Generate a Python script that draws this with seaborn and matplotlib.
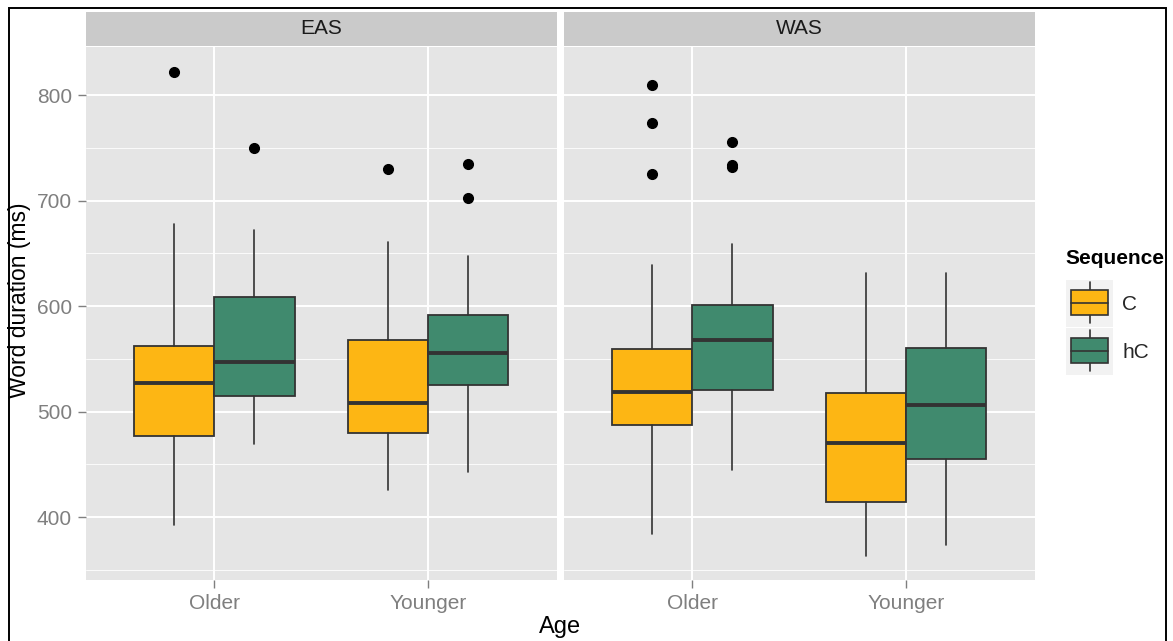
import numpy as np
import pandas as pd
import seaborn as sns
import matplotlib.pyplot as plt
from matplotlib.patches import Rectangle, Patch
from matplotlib.lines import Line2D
from matplotlib.legend_handler import HandlerBase
from matplotlib.ticker import FixedLocator

# data, one entry per box
groups = ['EAS', 'WAS']
ages = ['Older', 'Younger']
sequences = ['C', 'hC']
seq_colors = ['#FDB614', '#408A6E']

box_group = ['EAS', 'EAS', 'EAS', 'EAS', 'WAS', 'WAS', 'WAS', 'WAS']
box_age = ['Older', 'Older', 'Younger', 'Younger', 'Older', 'Older', 'Younger', 'Younger']
box_seq = ['C', 'hC', 'C', 'hC', 'C', 'hC', 'C', 'hC']
whislo = [392.6, 469.3, 425.8, 442.5, 384.1, 444.7, 363.2, 373.7]
q1 = [477.2, 515.1, 479.5, 524.9, 487.4, 520.2, 414.4, 455.4]
med = [526.9, 547.3, 508.5, 555.9, 518.6, 567.6, 470.0, 506.0]
q3 = [562.5, 608.9, 567.6, 591.8, 559.6, 601.0, 517.4, 560.0]
whishi = [677.8, 672.1, 661.0, 647.7, 638.9, 658.6, 631.7, 631.7]
fliers = [[822.1], [750.1], [729.9], [734.9, 702.1],
          [809.8, 773.5, 725.2], [755.5, 733.5, 731.5], [], []]

df = pd.DataFrame({'Group': box_group, 'Age': box_age, 'Sequence': box_seq,
                   'whislo': whislo, 'q1': q1, 'med': med, 'q3': q3,
                   'whishi': whishi, 'fliers': fliers})

sns.set_theme(style='darkgrid', rc={'axes.facecolor': '#E5E5E5', 'grid.color': 'white'})
plt.rcParams['font.family'] = ['Liberation Sans', 'DejaVu Sans']

W, H = 1173, 641
dark = '#333333'
dodge = 0.375


def draw_boxes(data, **kws):
    ax = plt.gca()
    for _, r in data.iterrows():
        k = sequences.index(r['Sequence'])
        pos = ages.index(r['Age']) + (k - 0.5) * dodge
        st = dict(whislo=r['whislo'], q1=r['q1'], med=r['med'], q3=r['q3'],
                  whishi=r['whishi'], fliers=r['fliers'])
        ax.bxp([st], positions=[pos], widths=dodge, patch_artist=True,
               showcaps=False, manage_ticks=False,
               boxprops=dict(facecolor=seq_colors[k], edgecolor=dark, linewidth=1.3),
               whiskerprops=dict(color=dark, linewidth=1.2),
               medianprops=dict(color=dark, linewidth=2.8, solid_capstyle='butt'),
               flierprops=dict(marker='o', markerfacecolor='black',
                               markeredgecolor='black', markersize=7))


class BoxKeyHandler(HandlerBase):
    def create_artists(self, legend, orig_handle, xdescent, ydescent,
                       width, height, fontsize, trans):
        x0, y0 = -xdescent, -ydescent
        cx = x0 + width / 2
        bg = Rectangle((x0, y0), width, height, facecolor='#F2F2F2',
                       edgecolor='none', transform=trans)
        lo = Line2D([cx, cx], [y0 + 0.08 * height, y0 + 0.26 * height],
                    color=dark, lw=1.2, transform=trans)
        hi = Line2D([cx, cx], [y0 + 0.78 * height, y0 + 0.96 * height],
                    color=dark, lw=1.2, transform=trans)
        box = Rectangle((x0 + 0.1 * width, y0 + 0.26 * height), 0.8 * width,
                        0.52 * height, facecolor=orig_handle.get_facecolor(),
                        edgecolor=dark, lw=1.2, transform=trans)
        md = Line2D([x0 + 0.1 * width, x0 + 0.9 * width],
                    [y0 + 0.52 * height] * 2, color=dark, lw=1.2, transform=trans)
        return [bg, lo, hi, box, md]


g = sns.FacetGrid(df, col='Group', col_order=groups, sharey=True, despine=False)
g.map_dataframe(draw_boxes)
fig = g.figure
fig.set_size_inches(W / 100, H / 100)
fig.set_dpi(100)
g.set_titles('')
g.set_axis_labels('', '')

panel_left = [86, 564]
strip_h = 34.4 / 533
for ax, name, left in zip(g.axes.flat, groups, panel_left):
    ax.set_position([left / W, 1 - 580 / H, 470.5 / W, 533 / H])
    ax.set_xlim(-0.6, 1.6)
    ax.set_ylim(340.5, 845.5)
    ax.set_xticks(range(len(ages)))
    ax.set_xticklabels(ages)
    ax.set_yticks([400, 500, 600, 700, 800])
    ax.yaxis.set_minor_locator(FixedLocator([350, 450, 550, 650, 750]))
    ax.set_axisbelow(True)
    ax.grid(which='major', color='white', linewidth=1.4)
    ax.grid(which='minor', axis='y', color='white', linewidth=0.6)
    ax.tick_params(which='major', length=6, width=1, color='#7F7F7F',
                   labelcolor='#7F7F7F', labelsize=15, bottom=True, left=True, pad=4)
    ax.tick_params(which='minor', length=0)
    for sp in ax.spines.values():
        sp.set_visible(False)
    ax.add_patch(Rectangle((0, 1.002), 1, strip_h, transform=ax.transAxes,
                           facecolor='#CACACA', edgecolor='none', clip_on=False))
    ax.text(0.5, 1.002 + strip_h / 2, name, transform=ax.transAxes, ha='center',
            va='center', fontsize=15, color='#1A1A1A')

g.axes.flat[1].tick_params(axis='y', left=False, labelleft=False)

fig.text(20 / W, 1 - 300 / H, 'Word duration (ms)', rotation=90, ha='center',
         va='center', fontsize=16.5, color='black')
fig.text(560 / W, 1 - 627 / H, 'Age', ha='center', va='center', fontsize=17,
         color='black')

fig.text(1065 / W, 1 - 259 / H, 'Sequence', ha='left', va='center',
         fontsize=15, fontweight='bold', color='black')
fig.legend(handles=[Patch(facecolor=c) for c in seq_colors], labels=sequences,
           handler_map={Patch: BoxKeyHandler()}, loc='upper left',
           bbox_to_anchor=(1066 / W, 1 - 280 / H), frameon=False, fontsize=15,
           handlelength=2.26, handleheight=3.09, labelspacing=0.05,
           handletextpad=0.43, borderpad=0, borderaxespad=0)

# outer frame around the whole picture
fig.add_artist(Rectangle((9 / W, -0.02), (1166 - 9) / W, 1 - 8.3 / H + 0.02,
                         transform=fig.transFigure, fill=False,
                         edgecolor='black', lw=1.4))

fig.savefig('out.png', dpi=100)
